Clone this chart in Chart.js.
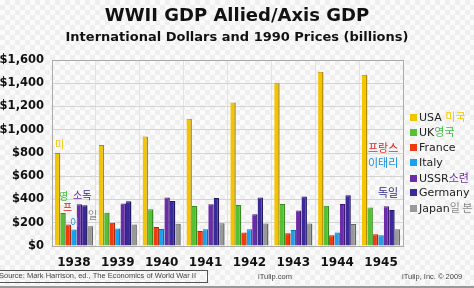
<!DOCTYPE html>
<html>
<head>
<meta charset="utf-8">
<script src="https://cdn.jsdelivr.net/npm/chart.js@4"></script>
<style>
  body { margin: 0; }
  #wrap {
    position: relative; width: 474px; height: 288px; overflow: hidden;
    background-color: #fbfbfb;
    background-image:
      linear-gradient(45deg, #efefef 25%, transparent 25%, transparent 75%, #efefef 75%),
      linear-gradient(45deg, #efefef 25%, transparent 25%, transparent 75%, #efefef 75%);
    background-size: 10px 10px;
    background-position: 0 0, 5px 5px;
    font-family: "DejaVu Sans", sans-serif;
  }
  canvas { position: absolute; left: 0; top: 0; }
  .t { position: absolute; white-space: nowrap; }
  .title { left: 0; width: 474px; text-align: center; font-weight: bold; color: #111; }
  .leg { position: absolute; left: 410px; font-size: 11px; color: #222; line-height: 13px; white-space: nowrap; }
  .leg span.sq { display: inline-block; width: 7px; height: 7px; margin-right: 2px; vertical-align: 0px; }
  .ko { font-family: "Noto Sans CJK KR", sans-serif; }
  .foot { position: absolute; top: 271px; font-family: "Liberation Sans", sans-serif; font-size: 7.5px; color: #444; }
  #bar { position: absolute; left: 0; top: 286px; width: 474px; height: 2px; background: #999; }
</style>
</head>
<body>
<div id="wrap">
  <canvas id="myChart" width="474" height="288"></canvas>
  <div class="t title" style="top:4px;font-size:18px;">WWII GDP Allied/Axis GDP</div>
  <div class="t title" style="top:29px;font-size:13px;">International Dollars and 1990 Prices (billions)</div>

  <div class="leg" style="top:110px"><span class="sq" style="background:#f5c400"></span>USA <span class="ko" style="color:#f5c800">미국</span></div>
  <div class="leg" style="top:125px"><span class="sq" style="background:#55c035"></span>UK<span class="ko" style="color:#40c040">영국</span></div>
  <div class="leg" style="top:141px"><span class="sq" style="background:#f03a10"></span>France</div>
  <div class="leg" style="top:156px"><span class="sq" style="background:#1aa0f0"></span>Italy</div>
  <div class="leg" style="top:171px"><span class="sq" style="background:#6a2ca8"></span>USSR<span class="ko" style="color:#6a2ca8">소련</span></div>
  <div class="leg" style="top:186px"><span class="sq" style="background:#3a2a98"></span>Germany</div>
  <div class="leg" style="top:201px"><span class="sq" style="background:#999999"></span>Japan<span class="ko" style="color:#888">일 본</span></div>

  <div class="t ko" style="left:368px;top:139px;font-size:11px;color:#e82020">프랑스</div>
  <div class="t ko" style="left:368px;top:154px;font-size:11px;color:#1a90e0">이태리</div>
  <div class="t ko" style="left:378px;top:184px;font-size:11px;color:#2a2a90">독일</div>

  <div class="t ko" style="left:55px;top:136px;font-size:10px;color:#f5c800">미</div>
  <div class="t ko" style="left:59px;top:188px;font-size:10px;color:#40c040">영</div>
  <div class="t ko" style="left:73px;top:187px;font-size:10px;color:#6a2ca8">소<span style="color:#2a2a90">독</span></div>
  <div class="t ko" style="left:63px;top:199px;font-size:10px;color:#e82020">프</div>
  <div class="t ko" style="left:70px;top:214px;font-size:10px;color:#1a90e0">이</div>
  <div class="t ko" style="left:88px;top:207px;font-size:10px;color:#888">일</div>

  <div class="foot" style="left:-2px;top:270px;width:208px;height:11px;border:1px solid #555;">Source: Mark Harrison, ed., The Economics of World War II</div>
  <div class="foot" style="left:258px;top:272px;">iTulip.com</div>
  <div class="foot" style="left:402px;top:272px;">iTulip, Inc. © 2009</div>
  <div id="bar"></div>
</div>
<script>
const ctx = document.getElementById('myChart').getContext('2d')

// billions of 1990 international dollars
const years = ['1938', '1939', '1940', '1941', '1942', '1943', '1944', '1945']
const usa     = [800, 869, 943, 1094, 1235, 1399, 1499, 1474]
const uk      = [284, 287, 316, 344, 353, 361, 346, 331]
const france  = [185, 199, 164, 130, 116, 110, 93, 101]
const italy   = [141, 151, 147, 144, 145, 137, 117, 92]
const ussr    = [359, 366, 417, 359, 274, 305, 362, 343]
const germany = [351, 384, 387, 412, 417, 426, 437, 310]
const japan   = [169, 184, 192, 196, 194, 194, 189, 144]
const yTicks  = [0, 200, 400, 600, 800, 1000, 1200, 1400, 1600]

function serie(label, data, color, edge) {
  return {
    label, data,
    backgroundColor: color,
    borderColor: edge,
    borderWidth: { right: 1.5, top: 1 },
    borderSkipped: 'bottom'
  }
}

// grey frame round the plot area
const frame = {
  id: 'frame',
  afterDraw(chart) {
    const a = chart.chartArea, c = chart.ctx
    c.save()
    c.strokeStyle = '#aaaaaa'
    c.lineWidth = 1
    c.strokeRect(a.left + 0.5, a.top + 0.5, a.right - a.left, a.bottom - a.top)
    c.restore()
  }
}

const data = {
  labels: years,
  datasets: [
    serie('USA', usa, '#f5c400', '#b08a00'),
    serie('UK', uk, '#55c035', '#3a8a22'),
    serie('France', france, '#f03a10', '#a82808'),
    serie('Italy', italy, '#1aa0f0', '#1070b0'),
    serie('USSR', ussr, '#6a2ca8', '#401a70'),
    serie('Germany', germany, '#3a2a98', '#201860'),
    serie('Japan', japan, '#999999', '#666666')
  ]
}

const config = {
  type: 'bar',
  data,
  plugins: [frame],
  options: {
    responsive: false,
    animation: false,
    layout: { padding: { top: 60, right: 71, left: 0, bottom: 0 } },
    categoryPercentage: 0.87,
    barPercentage: 1.0,
    plugins: { legend: { display: false }, tooltip: { enabled: false } },
    scales: {
      x: {
        grid: { color: '#e2e2e2', offset: true, drawTicks: false },
        border: { color: '#aaaaaa' },
        ticks: { color: '#111', font: { family: 'DejaVu Sans', size: 12, weight: 'bold' }, padding: 10 },
        afterFit: s => { s.height = 42 }
      },
      y: {
        min: 0, max: 1600,
        afterBuildTicks: s => { s.ticks = yTicks.map(v => ({ value: v })) },
        grid: { color: '#d4d4d4', drawTicks: false },
        border: { color: '#aaaaaa' },
        ticks: {
          color: '#111', padding: 8,
          font: { family: 'DejaVu Sans', size: 11.5, weight: 'bold' },
          callback: v => '$' + v.toLocaleString('en-US')
        },
        afterFit: s => { s.width = 52 }
      }
    }
  }
}

const myChart = new Chart(ctx, config)
</script>
</body>
</html>
